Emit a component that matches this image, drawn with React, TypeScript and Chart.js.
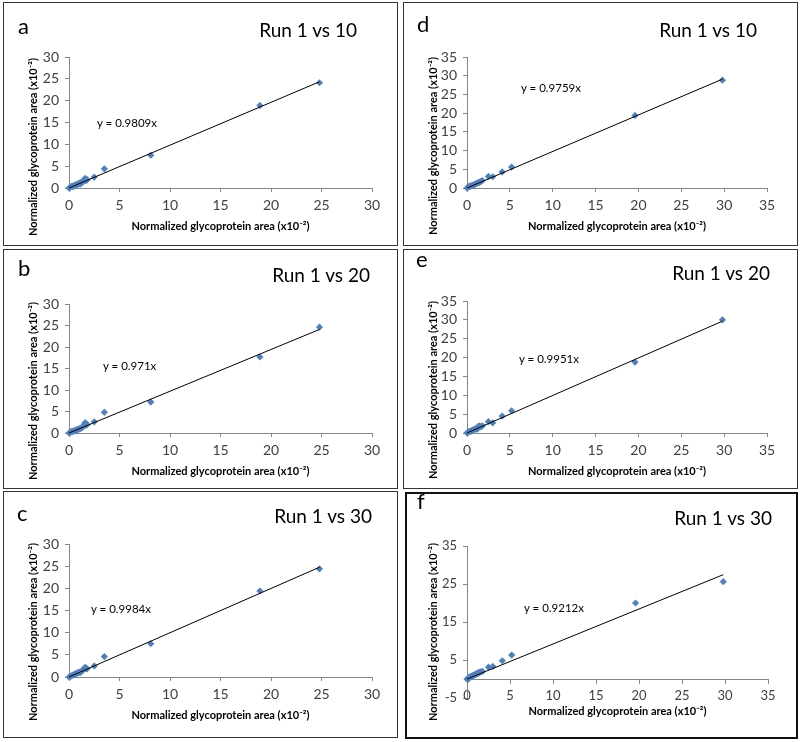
import React, { useEffect, useRef } from 'react';
import { Chart, registerables } from 'chart.js';

Chart.register(...registerables);

const FONT = 'Lato, "Open Sans", "DejaVu Sans", sans-serif';
const AXIS_TITLE = 'Normalized glycoprotein area (x10\u207B\u00B2)';

// ---- data (normalized glycoprotein area, x10^-2) ----
// left column: Run 1 (x) vs runs 10 / 20 / 30 (y)
const leftRun1X = [0, 0.1, 0.2, 0.3, 0.4, 0.5, 0.6, 0.7, 0.8, 0.9, 1.0, 1.1, 1.2, 1.3, 1.4, 1.5, 1.6, 1.7, 1.8, 2.5, 3.5, 8.1, 18.9, 24.8];
const leftRun10Y = [0, 0.1, 0.3, 0.4, 0.3, 0.6, 0.5, 0.8, 0.7, 0.9, 1.1, 0.9, 1.3, 1.2, 1.6, 1.9, 2.2, 1.7, 1.9, 2.5, 4.4, 7.5, 18.9, 24.1];
const leftRun20Y = [0, 0.1, 0.3, 0.3, 0.4, 0.5, 0.6, 0.7, 0.8, 0.8, 1.0, 1.0, 1.1, 1.3, 1.5, 2.0, 2.4, 1.8, 2.0, 2.6, 4.8, 7.2, 17.7, 24.6];
const leftRun30Y = [0, 0.1, 0.2, 0.4, 0.4, 0.6, 0.6, 0.8, 0.8, 1.0, 1.1, 1.0, 1.2, 1.4, 1.6, 1.9, 2.2, 1.8, 1.9, 2.5, 4.6, 7.5, 19.4, 24.4];
// right column: Run 1 (x) vs runs 10 / 20 / 30 (y)
const rightRun1X = [0, 0.1, 0.2, 0.3, 0.4, 0.5, 0.6, 0.7, 0.8, 0.9, 1.0, 1.1, 1.2, 1.3, 1.4, 1.5, 1.6, 1.8, 2.5, 3.0, 4.1, 5.2, 19.6, 29.8];
const rightRun10Y = [0, 0.2, 0.3, 0.5, 0.4, 0.6, 0.7, 0.8, 0.8, 1.0, 1.1, 1.2, 1.3, 1.4, 1.5, 1.6, 1.7, 2.0, 3.1, 3.0, 4.3, 5.6, 19.4, 28.8];
const rightRun20Y = [0, 0.2, 0.3, 0.4, 0.5, 0.5, 0.7, 0.8, 0.9, 1.0, 1.1, 1.1, 1.0, 1.7, 1.8, 1.8, 1.6, 1.9, 3.0, 2.7, 4.5, 5.9, 18.8, 30.0];
const rightRun30Y = [0, -0.2, 0.3, 0.5, 0.6, 0.7, 0.8, 0.9, 1.0, 1.1, 1.2, 1.3, 1.6, 1.5, 1.7, 1.8, 1.9, 2.0, 3.1, 3.3, 4.8, 6.3, 20.0, 25.6];
// trendline slopes (y = kx)
const slopes = [0.9809, 0.971, 0.9984, 0.9759, 0.9951, 0.9212];
const slopeLabels = ['y = 0.9809x', 'y = 0.971x', 'y = 0.9984x', 'y = 0.9759x', 'y = 0.9951x', 'y = 0.9212x'];
const panelLetters = ['a', 'b', 'c', 'd', 'e', 'f'];
const panelTitles = ['Run 1 vs 10', 'Run 1 vs 20', 'Run 1 vs 30', 'Run 1 vs 10', 'Run 1 vs 20', 'Run 1 vs 30'];

type Spec = {
  i: number; box: number[]; plot: number[]; xMax: number; yMin: number; yMax: number; yStep: number;
  xs: number[]; ys: number[]; crossZero?: boolean; titleRight: number; titleBase: number; letterX: number;
  letterBase: number; eqX: number; eqBase: number; yTitleX: number; yTitleY: number; borderW: number;
};

const specs: Spec[] = [
  { i: 0, box: [3, 2, 395, 244], plot: [69, 57, 372, 188], xMax: 30, yMin: 0, yMax: 30, yStep: 5, xs: leftRun1X, ys: leftRun10Y, titleRight: 357, titleBase: 37, letterX: 18, letterBase: 35, eqX: 97, eqBase: 127, yTitleX: 32, yTitleY: 147, borderW: 1 },
  { i: 1, box: [3, 249, 395, 240], plot: [69, 304, 372, 433], xMax: 30, yMin: 0, yMax: 30, yStep: 5, xs: leftRun1X, ys: leftRun20Y, titleRight: 370, titleBase: 282, letterX: 18, letterBase: 277, eqX: 103, eqBase: 370, yTitleX: 32, yTitleY: 391, borderW: 1 },
  { i: 2, box: [3, 491, 395, 247], plot: [69, 544, 372, 677], xMax: 30, yMin: 0, yMax: 30, yStep: 5, xs: leftRun1X, ys: leftRun30Y, titleRight: 372, titleBase: 523, letterX: 17, letterBase: 522, eqX: 91, eqBase: 613, yTitleX: 32, yTitleY: 632, borderW: 1 },
  { i: 3, box: [403, 2, 395, 244], plot: [467, 57, 767, 188], xMax: 35, yMin: 0, yMax: 35, yStep: 5, xs: rightRun1X, ys: rightRun10Y, titleRight: 757, titleBase: 37, letterX: 417, letterBase: 33, eqX: 521, eqBase: 92, yTitleX: 432, yTitleY: 146, borderW: 1 },
  { i: 4, box: [403, 249, 395, 240], plot: [467, 301, 767, 433], xMax: 35, yMin: 0, yMax: 35, yStep: 5, xs: rightRun1X, ys: rightRun20Y, titleRight: 770, titleBase: 280, letterX: 416, letterBase: 268, eqX: 519, eqBase: 363, yTitleX: 432, yTitleY: 390, borderW: 1 },
  { i: 5, box: [405, 492, 393, 247], plot: [467, 546, 768, 698], xMax: 35, yMin: -5, yMax: 35, yStep: 10, xs: rightRun1X, ys: rightRun30Y, crossZero: true, titleRight: 772, titleBase: 525, letterX: 417, letterBase: 510, eqX: 524, eqBase: 612, yTitleX: 432, yTitleY: 632, borderW: 2 },
];

const AXIS_COLOR = '#868686';
const TICK_COLOR = '#404040';
const POINT_COLOR = '#4F81BD';

function Panel({ s }: { s: Spec }) {
  const ref = useRef<HTMLCanvasElement>(null);
  const [bl, bt, bw, bh] = s.box;
  useEffect(() => {
    const [pl, pt, pr, pb] = s.plot;
    const W = 30;
    const H = s.crossZero ? 39 : 45;
    const tickSize = s.crossZero ? 13 : 14;
    const xEnd = Math.max(...s.xs);
    const slope = slopes[s.i];
    const chart = new Chart(ref.current as HTMLCanvasElement, {
      type: 'scatter',
      data: {
        datasets: [
          { type: 'line', data: [{ x: 0, y: 0 }, { x: xEnd, y: slope * xEnd }], borderColor: '#000', borderWidth: 1, pointRadius: 0, order: 0, clip: false } as any,
          { type: 'scatter', data: s.xs.map((x, k) => ({ x, y: s.ys[k] })), pointStyle: 'rectRot', pointRadius: 3.6, backgroundColor: POINT_COLOR, borderColor: POINT_COLOR, borderWidth: 0, order: 1, clip: false } as any,
        ],
      },
      options: {
        animation: false,
        responsive: false,
        events: [],
        layout: { padding: { left: pl - bl - W, top: pt - bt, right: bl + bw - pr, bottom: s.crossZero ? bt + bh - pb : bt + bh - (pb + H) } },
        plugins: { legend: { display: false }, tooltip: { enabled: false }, title: { display: false } },
        scales: {
          x: {
            type: 'linear',
            position: (s.crossZero ? { y: 0 } : 'bottom') as any,
            min: 0,
            max: s.xMax,
            ticks: { stepSize: 5, autoSkip: false, maxRotation: 0, color: TICK_COLOR, font: { size: tickSize, family: FONT }, padding: 5 },
            grid: { drawOnChartArea: false, tickLength: 4, color: AXIS_COLOR },
            border: { color: AXIS_COLOR },
            title: { display: true, text: AXIS_TITLE, color: '#000', font: { size: 11, weight: 'bold', family: FONT }, padding: { top: 0, bottom: 0 } },
            afterFit: (sc: any) => { sc.height = H; },
          },
          y: {
            type: 'linear',
            min: s.yMin,
            max: s.yMax,
            ticks: { stepSize: s.yStep, autoSkip: false, color: TICK_COLOR, font: { size: tickSize, family: FONT }, padding: 6 },
            grid: { drawOnChartArea: false, tickLength: 4, color: AXIS_COLOR },
            border: { color: AXIS_COLOR },
            afterFit: (sc: any) => { sc.width = W; },
          },
        },
      } as any,
    });
    return () => chart.destroy();
  }, []);

  const base = (b: number, fs: number) => b - 0.887 * fs;
  const textStyle = (fs: number, extra: any = {}) => ({
    position: 'absolute' as const, fontFamily: FONT, fontSize: fs, lineHeight: 1, whiteSpace: 'nowrap' as const, color: '#000', ...extra,
  });

  return (
    <>
      <canvas ref={ref} width={bw} height={bh} style={{ position: 'absolute', left: bl, top: bt, width: bw, height: bh }} />
      <div style={{ position: 'absolute', left: bl, top: bt, width: bw, height: bh, boxSizing: 'border-box', border: `${s.borderW}px solid ${s.borderW > 1 ? '#111' : '#333'}`, pointerEvents: 'none' }} />
      <div style={textStyle(22, { left: s.letterX, top: base(s.letterBase, 22) })}>{panelLetters[s.i]}</div>
      <div style={textStyle(19, { left: s.titleRight - 200, width: 200, textAlign: 'right', top: base(s.titleBase, 19) })}>{panelTitles[s.i]}</div>
      <div style={textStyle(11.5, { left: s.eqX, top: base(s.eqBase, 11.5) })}>{slopeLabels[s.i]}</div>
      <div style={textStyle(11, { left: s.yTitleX, top: s.yTitleY, fontWeight: 'bold', transform: 'translate(-50%, -50%) rotate(-90deg)' })}>{AXIS_TITLE}</div>
    </>
  );
}

export default function App() {
  return (
    <div style={{ position: 'absolute', left: 0, top: 0, width: 800, height: 742, background: '#fff', overflow: 'hidden' }}>
      {specs.map((s) => (
        <Panel key={s.i} s={s} />
      ))}
    </div>
  );
}
